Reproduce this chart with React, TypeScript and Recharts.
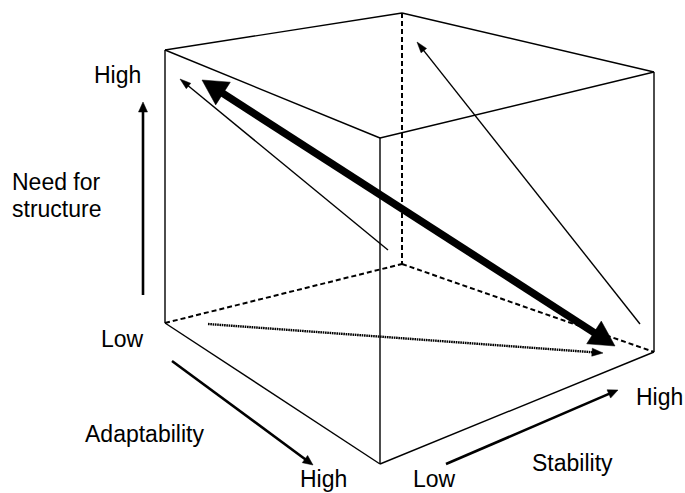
import React from 'react';
import { ComposedChart, XAxis, YAxis, ReferenceLine, Scatter } from 'recharts';

const W = 685;
const H = 493;

// Cube corners in diagram units (x to the right, y downward)
const cornerNames = ['A', 'B', 'C', 'D', 'E', 'F', 'G', 'H'];
const cornerX = [165, 402, 654, 380, 165, 402, 654, 380];
const cornerY = [50, 13, 72, 138, 323, 264, 352, 464];

// Visible (solid) and hidden (dashed) edges
const solidEdges = [
  ['A', 'B'], ['B', 'C'], ['C', 'D'], ['D', 'A'],
  ['A', 'E'], ['C', 'G'], ['D', 'H'], ['E', 'H'], ['H', 'G'],
];
const hiddenEdges = [['B', 'F'], ['E', 'F'], ['F', 'G']];

// Arrows (tail -> head)
const arrowKinds = ['double', 'thin', 'thin', 'dotted', 'axis', 'axis', 'axis'];
const arrowFromX = [615, 388, 640, 208, 143, 172, 446];
const arrowFromY = [346, 250, 324, 324, 295, 361, 464];
const arrowToX = [202, 180, 417, 603, 143, 313, 618];
const arrowToY = [80, 79, 42, 353, 102, 465, 390];

// Text labels (left edge, baseline)
const labelTexts = ['High', 'Need for', 'structure', 'Low', 'Adaptability', 'High', 'Low', 'Stability', 'High'];
const labelX = [94, 12, 12, 101, 85, 300, 413, 532, 636];
const labelY = [83, 190, 217, 347, 442, 487, 487, 471, 405];

const corner = (n: string) => {
  const i = cornerNames.indexOf(n);
  return { x: cornerX[i], y: cornerY[i] };
};

const labelData = labelTexts.map((t, i) => ({ x: labelX[i], y: labelY[i], text: t }));

const arrowStyles: Record<string, any> = {
  double: { width: 7.5, headLen: 25, headW: 27, double: true, dash: undefined },
  thin: { width: 1.4, headLen: 11, headW: 7, double: false, dash: undefined },
  dotted: { width: 2.4, headLen: 11, headW: 8, double: false, dash: '1.6 0.7' },
  axis: { width: 2.6, headLen: 10, headW: 9, double: false, dash: undefined },
};

const makeArrowShape = (kind: string) => (props: any) => {
  const { x1, y1, x2, y2 } = props;
  if ([x1, y1, x2, y2].some((v) => v == null || isNaN(v))) return <g />;
  const st = arrowStyles[kind];
  const dx = x2 - x1;
  const dy = y2 - y1;
  const len = Math.sqrt(dx * dx + dy * dy);
  const ux = dx / len;
  const uy = dy / len;
  const px = -uy;
  const py = ux;
  const head = (tx: number, ty: number, dirx: number, diry: number) => {
    const bx = tx - dirx * st.headLen;
    const by = ty - diry * st.headLen;
    const pts = [
      [tx, ty],
      [bx + px * st.headW / 2, by + py * st.headW / 2],
      [bx - px * st.headW / 2, by - py * st.headW / 2],
    ];
    return <polygon points={pts.map((p) => p.join(',')).join(' ')} fill="#000" stroke="#000" strokeWidth={0.5} strokeLinejoin="miter" />;
  };
  const sx = st.double ? x1 + ux * (st.headLen - 2) : x1;
  const sy = st.double ? y1 + uy * (st.headLen - 2) : y1;
  const ex = x2 - ux * (st.headLen - 2);
  const ey = y2 - uy * (st.headLen - 2);
  return (
    <g>
      <line x1={sx} y1={sy} x2={ex} y2={ey} stroke="#000" strokeWidth={st.width} strokeDasharray={st.dash} />
      {head(x2, y2, ux, uy)}
      {st.double ? head(x1, y1, -ux, -uy) : null}
    </g>
  );
};

const LabelShape = (props: any) => {
  const { cx, cy, payload } = props;
  return (
    <text x={cx} y={cy} fontFamily="'Liberation Sans', Arial, sans-serif" fontSize={23} fill="#000" textAnchor="start">
      {payload.text}
    </text>
  );
};

export default function App() {
  return (
    <div style={{ position: 'absolute', left: 0, top: 0, width: W, height: H, background: '#fff' }}>
      <ComposedChart width={W} height={H} margin={{ top: 0, right: 0, bottom: 0, left: 0 }} data={labelData}>
        <XAxis type="number" dataKey="x" domain={[0, W]} hide allowDataOverflow />
        <YAxis type="number" dataKey="y" domain={[0, H]} reversed hide allowDataOverflow />
        {solidEdges.map(([a, b], i) => (
          <ReferenceLine
            key={'s' + i}
            segment={[corner(a), corner(b)]}
            stroke="#000"
            strokeWidth={1.4}
            ifOverflow="visible"
          />
        ))}
        {hiddenEdges.map(([a, b], i) => (
          <ReferenceLine
            key={'h' + i}
            segment={[corner(a), corner(b)]}
            stroke="#000"
            strokeWidth={2}
            strokeDasharray="5 3"
            ifOverflow="visible"
          />
        ))}
        {arrowKinds.map((k, i) => (
          <ReferenceLine
            key={'a' + i}
            segment={[
              { x: arrowFromX[i], y: arrowFromY[i] },
              { x: arrowToX[i], y: arrowToY[i] },
            ]}
            ifOverflow="visible"
            shape={makeArrowShape(k)}
          />
        ))}
        <Scatter data={labelData} dataKey="y" shape={LabelShape} isAnimationActive={false} />
      </ComposedChart>
    </div>
  );
}
